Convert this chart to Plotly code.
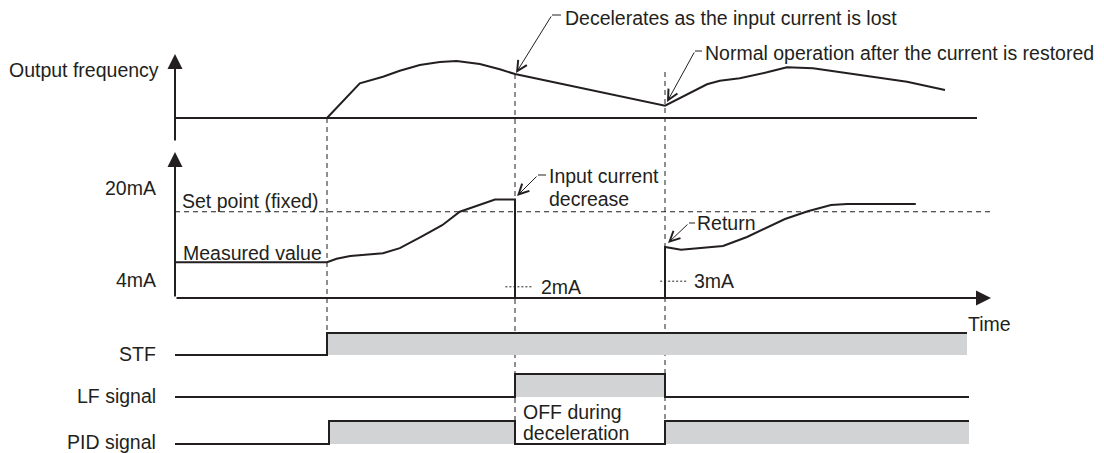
import plotly.graph_objects as go

# reference canvas is 1104x453; the page adds an 8px body margin,
# so the figure is drawn 8px smaller and all pixel positions are shifted
PAGE_W, PAGE_H, OFF = 1104, 453, 8
W, H = PAGE_W - OFF, PAGE_H - OFF
INK = "#231f20"
GREY = "#d1d3d4"
FONT = dict(family="Liberation Sans, Arial, sans-serif", size=19.5, color=INK)

# events on the time axis (s)
T_STF_ON = 19.0
T_PID_ON = 19.25
T_LOSS = 42.5
T_RESTORE = 61.25
T_SIG_END = 99.25
T_AXIS_END = 102.0

# output frequency (Hz)
freq_t = [19.0, 23.1, 26.0, 28.1, 30.6, 33.1, 35.2, 38.1, 40.6, 42.5,
          61.25, 65.2, 66.5, 68.1, 70.6, 74.0, 76.5, 79.75, 84.75, 88.1, 91.5, 96.25]
freq_hz = [0, 30.4, 36.2, 41.5, 46.5, 49.1, 50.0, 47.4, 42.7, 38.6,
           10.8, 25.2, 29.6, 32.7, 34.8, 40.1, 44.5, 43.6, 38.3, 34.8, 31.8, 24.6]

# measured value (mA)
cur_t = [0, 19.0, 20.2, 21.9, 26.0, 28.1, 30.75, 33.4, 35.6, 37.75, 40.0, 42.5,
         42.5, 61.25, 61.25, 63.25, 68.5, 71.5, 73.9, 76.25, 79.1, 82.0, 84.0, 92.6]
cur_ma = [6.4, 6.4, 7.0, 7.5, 8.0, 8.9, 10.9, 13.0, 15.4, 16.5, 17.6, 17.6,
          0, 0, 9.1, 8.6, 9.3, 10.9, 12.5, 14.1, 15.5, 16.6, 16.8, 16.8]
SETPOINT_MA = 15.4
LOSS_MA = 2
RETURN_MA = 3

# on/off signals
stf_t = [0, T_STF_ON, T_SIG_END - 0.25]
stf = [0, 1, 1]
lf_t = [0, T_LOSS, T_RESTORE, T_SIG_END]
lf = [0, 1, 0, 0]
pid_t = [0, T_PID_ON, T_LOSS, T_RESTORE, T_SIG_END]
pid = [0, 1, 0, 1, 1]

# page pixel of time zero and px per second
X0, PX_S = 175, 8.0


def rng(p0, scale):
    # value 0 sits at page pixel row p0, scale px per unit
    p0 -= OFF
    return [(p0 - H) / scale, p0 / scale]


def px(x):
    return (x - OFF) / W


def py(y):
    return 1 - (y - OFF) / H


fig = go.Figure()

fig.add_trace(go.Scatter(x=freq_t, y=freq_hz, mode="lines", yaxis="y",
                         line=dict(color=INK, width=2)))
fig.add_trace(go.Scatter(x=[0, T_AXIS_END], y=[SETPOINT_MA] * 2, mode="lines", yaxis="y2",
                         line=dict(color=INK, width=1, dash="5px,4px")))
fig.add_trace(go.Scatter(x=cur_t, y=cur_ma, mode="lines", yaxis="y2",
                         line=dict(color=INK, width=2)))
fig.add_trace(go.Scatter(x=[T_LOSS - 1.2, T_LOSS + 2.3], y=[LOSS_MA] * 2, mode="lines", yaxis="y2",
                         line=dict(color=INK, width=1, dash="2px,2px")))
fig.add_trace(go.Scatter(x=[T_RESTORE - 0.6, T_RESTORE + 2.8], y=[RETURN_MA] * 2, mode="lines", yaxis="y2",
                         line=dict(color=INK, width=1, dash="2px,2px")))

for t, v, ax in [(stf_t, stf, "y3"), (lf_t, lf, "y4"), (pid_t, pid, "y5")]:
    fig.add_trace(go.Scatter(x=t, y=v, mode="lines", yaxis=ax, line_shape="hv",
                             fill="tozeroy", fillcolor=GREY,
                             line=dict(color=INK, width=2)))

# dashed event lines
for t, ya, yb in [(T_STF_ON, 118, 333), (T_LOSS, 74, 444), (T_RESTORE, 72, 421)]:
    fig.add_shape(type="line", xref="x", yref="paper", x0=t, x1=t, y0=py(ya), y1=py(yb),
                  line=dict(color=INK, width=1, dash="5px,4px"), layer="below")

# baseline of frequency
fig.add_shape(type="line", xref="paper", yref="paper", x0=px(175), x1=px(977), y0=py(118), y1=py(118),
              line=dict(color=INK, width=2))

ann = []
# axis arrows
for tip, dx, dy in [((175, 54), 0, 88), ((175, 152), 0, 146), ((991, 298), -816, 0)]:
    ann.append(dict(x=px(tip[0]), y=py(tip[1]), xref="paper", yref="paper", text="",
                    showarrow=True, ax=dx, ay=dy, axref="pixel", ayref="pixel",
                    arrowhead=2, arrowwidth=2, arrowsize=1.5, arrowcolor=INK, standoff=0))

# callouts: tip, elbow, stub end
callouts = [((516, 73), (552, 15), (561, 15)),
            ((667, 102), (695, 51), (702, 51)),
            ((517, 196), (538, 175), (546, 175)),
            ((668, 243), (689, 223), (695, 223))]
for tip, elb, stub in callouts:
    ann.append(dict(x=px(tip[0]), y=py(tip[1]), xref="paper", yref="paper", text="",
                    showarrow=True, ax=elb[0] - tip[0], ay=elb[1] - tip[1],
                    axref="pixel", ayref="pixel",
                    arrowhead=5, arrowwidth=1, arrowsize=2, arrowcolor=INK, standoff=0))
    fig.add_shape(type="line", xref="paper", yref="paper", x0=px(elb[0]), x1=px(stub[0]),
                  y0=py(elb[1]), y1=py(stub[1]), line=dict(color=INK, width=1))

labels = [
    ("Output frequency", 161, 70, "right"),
    ("20mA", 158, 188, "right"),
    ("4mA", 158, 280, "right"),
    ("Set point (fixed)", 180, 201, "left"),
    ("Measured value", 181, 253, "left"),
    ("Decelerates as the input current is lost", 563, 18, "left"),
    ("Normal operation after the current is restored", 703, 53, "left"),
    ("Input current", 547, 176, "left"),
    ("decrease", 547, 199, "left"),
    ("Return", 695, 223, "left"),
    ("2mA", 539, 287, "left"),
    ("3mA", 692, 281, "left"),
    ("Time", 966, 324, "left"),
    ("STF", 158, 354, "right"),
    ("LF signal", 158, 396, "right"),
    ("PID signal", 158, 442, "right"),
    ("OFF during", 521, 412, "left"),
    ("deceleration", 521, 433, "left"),
]
for text, x, y, anchor in labels:
    ann.append(dict(text=text, x=px(x), y=py(y), xref="paper", yref="paper",
                    xanchor=anchor, yanchor="middle", showarrow=False, font=FONT))

hidden = dict(visible=False, fixedrange=True)
fig.update_layout(
    width=W, height=H, margin=dict(l=0, r=0, t=0, b=0),
    paper_bgcolor="white", plot_bgcolor="white", showlegend=False,
    xaxis=dict(range=[(OFF - X0) / PX_S, (PAGE_W - X0) / PX_S], **hidden),
    yaxis=dict(range=rng(118, 1.14), **hidden),
    yaxis2=dict(range=rng(298, 5.6), overlaying="y", **hidden),
    yaxis3=dict(range=rng(355, 22), overlaying="y", **hidden),
    yaxis4=dict(range=rng(397, 23), overlaying="y", **hidden),
    yaxis5=dict(range=rng(444, 23), overlaying="y", **hidden),
    annotations=ann,
)

fig.write_html("out.html")
